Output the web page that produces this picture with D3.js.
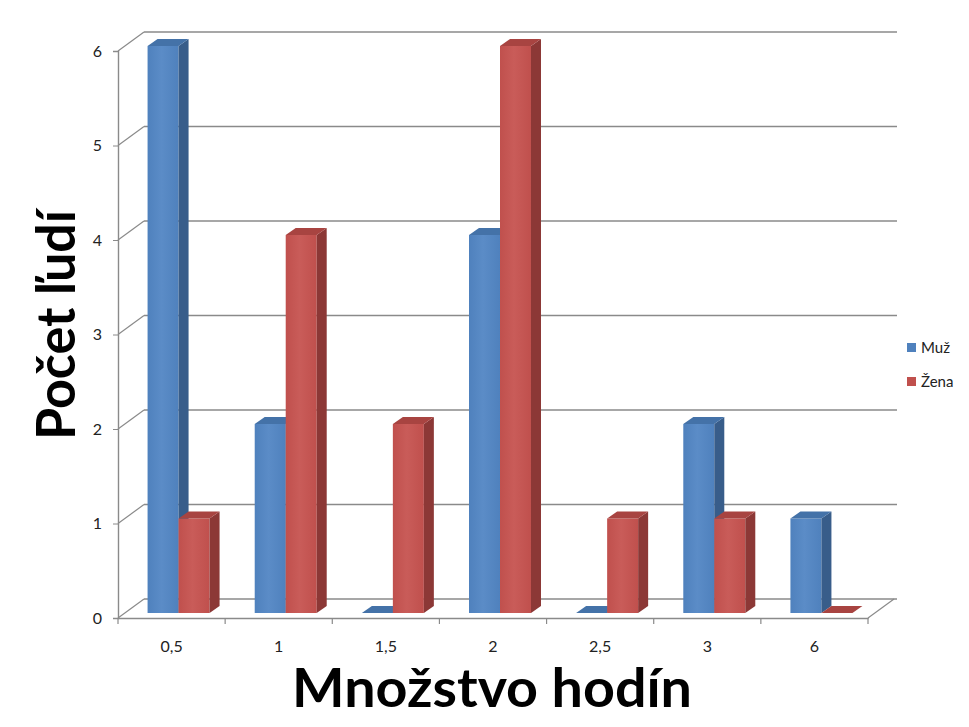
<!DOCTYPE html>
<html lang="sk">
<head>
<meta charset="utf-8"/>
<script src="https://d3js.org/d3.v7.min.js"></script>
<style>
  body { margin: 0; background: #fff; }
  text { font-family: Lato, "Open Sans", sans-serif; }
</style>
</head>
<body>
<div id="chart"></div>
<script>
// data
var categories = ["0,5", "1", "1,5", "2", "2,5", "3", "6"];
var seriesNames = ["Muž", "Žena"];
var muz = [6, 2, 0, 4, 0, 2, 1];
var zena = [1, 4, 2, 6, 1, 1, 0];
var yTicks = [0, 1, 2, 3, 4, 5, 6];

var width = 969, height = 727;

// 3d look: front plane, bar plane and back wall offsets
var back = {dx: 26, dy: -19};
var barOff = {dx: 7, dy: -5};
var depth = {dx: 10, dy: -7};

var colors = {
    "Muž":  {front: "#4f81bd", light: "#5b8cc7", side: "#385d8a", top: "#4472a8"},
    "Žena": {front: "#c0504d", light: "#c95c59", side: "#8c3836", top: "#a84441"}
};

var svg = d3.select("#chart")
    .append("svg")
        .attr("width", width)
        .attr("height", height);

// soft horizontal shading on the bar fronts
var defs = svg.append("defs");
seriesNames.forEach(function (s, i) {
    var lg = defs.append("linearGradient")
        .attr("id", "grad" + i)
        .attr("x1", "0%").attr("x2", "100%")
        .attr("y1", "0%").attr("y2", "0%");
    lg.append("stop").attr("offset", "0%").attr("stop-color", colors[s].front);
    lg.append("stop").attr("offset", "45%").attr("stop-color", colors[s].light);
    lg.append("stop").attr("offset", "100%").attr("stop-color", colors[s].front);
});

var x0 = d3.scaleBand()
    .domain(categories)
    .range([118, 868])
    .padding(0);

var x1 = d3.scaleBand()
    .domain(seriesNames)
    .range([x0.bandwidth() / 2 - 31, x0.bandwidth() / 2 + 31]);

var y = d3.scaleLinear()
    .domain([0, 6])
    .range([618, 51]);

var grid = "#8a8a8a";

// back wall gridlines + left wall diagonals
yTicks.forEach(function (t) {
    svg.append("line")
        .attr("x1", 118 + back.dx).attr("x2", 897)
        .attr("y1", y(t) + back.dy).attr("y2", y(t) + back.dy)
        .attr("stroke", grid).attr("stroke-width", 1.6);
    svg.append("line")
        .attr("x1", 118).attr("y1", y(t))
        .attr("x2", 118 + back.dx).attr("y2", y(t) + back.dy)
        .attr("stroke", grid).attr("stroke-width", 1.2);
});

// floor right edge
svg.append("line")
    .attr("x1", 868).attr("y1", y(0))
    .attr("x2", 868 + back.dx).attr("y2", y(0) + back.dy)
    .attr("stroke", grid).attr("stroke-width", 1.2);

// y axis (front left edge)
var yAxis = svg.append("g")
    .attr("transform", "translate(118,0)")
    .call(d3.axisLeft(y).tickValues(yTicks).tickSize(5).tickFormat(d3.format("d")));
yAxis.select(".domain").attr("stroke", grid).attr("stroke-width", 1.4);
yAxis.selectAll(".tick line").attr("stroke", grid);
yAxis.selectAll("text")
    .attr("x", -16)
    .attr("font-size", 16)
    .attr("font-family", "Lato, sans-serif")
    .attr("fill", "#222");

// x axis (front floor edge)
var xAxis = svg.append("g")
    .attr("transform", "translate(0," + y(0) + ")")
    .call(d3.axisBottom(x0).tickSize(0).tickSizeOuter(0));
xAxis.select(".domain").attr("stroke", grid).attr("stroke-width", 1.4);
xAxis.selectAll("text")
    .attr("y", 23)
    .attr("font-size", 16)
    .attr("font-family", "Lato, sans-serif")
    .attr("fill", "#222");
// ticks between categories
xAxis.selectAll(".sep")
    .data(d3.range(categories.length + 1))
    .enter()
    .append("line")
        .attr("class", "sep")
        .attr("x1", function (i) { return 118 + i * x0.step(); })
        .attr("x2", function (i) { return 118 + i * x0.step(); })
        .attr("y1", 0).attr("y2", 6)
        .attr("stroke", grid).attr("stroke-width", 1.2);

// bars
var bars = [];
categories.forEach(function (c, i) {
    bars.push({cat: c, s: "Muž", v: muz[i]});
    bars.push({cat: c, s: "Žena", v: zena[i]});
});

var bw = x1.bandwidth();
var g = svg.selectAll(".bar")
    .data(bars)
    .enter()
    .append("g")
        .attr("class", "bar");

function pts(p) { return p.map(function (q) { return q.join(","); }).join(" "); }

g.append("rect")
    .attr("x", function (d) { return x0(d.cat) + x1(d.s) + barOff.dx; })
    .attr("y", function (d) { return y(d.v) + barOff.dy; })
    .attr("width", bw)
    .attr("height", function (d) { return y(0) - y(d.v); })
    .attr("fill", function (d) { return "url(#grad" + seriesNames.indexOf(d.s) + ")"; });

g.append("polygon")
    .attr("points", function (d) {
        var xr = x0(d.cat) + x1(d.s) + barOff.dx + bw;
        var yt = y(d.v) + barOff.dy, yb = y(0) + barOff.dy;
        return pts([[xr, yt], [xr + depth.dx, yt + depth.dy], [xr + depth.dx, yb + depth.dy], [xr, yb]]);
    })
    .attr("fill", function (d) { return colors[d.s].side; });

g.append("polygon")
    .attr("points", function (d) {
        var xl = x0(d.cat) + x1(d.s) + barOff.dx, xr = xl + bw;
        var yt = y(d.v) + barOff.dy;
        return pts([[xl, yt], [xl + depth.dx, yt + depth.dy], [xr + depth.dx, yt + depth.dy], [xr, yt]]);
    })
    .attr("fill", function (d) { return colors[d.s].top; });

// axis titles
svg.append("text")
    .attr("x", 492)
    .attr("y", 707)
    .attr("text-anchor", "middle")
    .attr("font-size", 54)
    .attr("font-weight", "bold")
    .attr("textLength", 400)
    .attr("lengthAdjust", "spacingAndGlyphs")
    .attr("fill", "#000")
    .text("Množstvo hodín");

svg.append("text")
    .attr("transform", "translate(75,325) rotate(-90)")
    .attr("text-anchor", "middle")
    .attr("font-size", 54)
    .attr("font-weight", "bold")
    .attr("textLength", 230)
    .attr("lengthAdjust", "spacingAndGlyphs")
    .attr("fill", "#000")
    .text("Počet ľudí");

// legend
var legend = svg.selectAll(".legend")
    .data(seriesNames)
    .enter()
    .append("g")
        .attr("class", "legend")
        .attr("transform", function (d, i) { return "translate(907," + (343 + i * 34) + ")"; });

legend.append("rect")
    .attr("width", 9).attr("height", 9)
    .attr("fill", function (d) { return colors[d].front; });

legend.append("text")
    .attr("x", 14)
    .attr("y", 10)
    .attr("font-size", 15)
    .attr("fill", "#222")
    .text(function (d) { return d; });
</script>
</body>
</html>
